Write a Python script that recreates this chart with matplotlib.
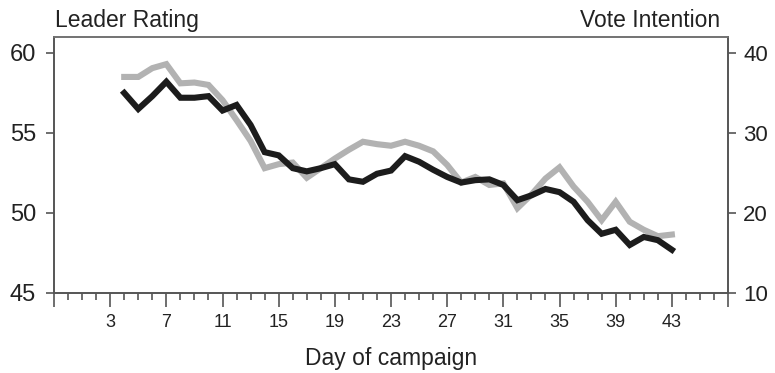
import matplotlib.pyplot as plt
import numpy as np

plt.rcParams["font.family"] = ["Liberation Sans", "DejaVu Sans"]

# campaign days with observations
days = list(range(4, 44))

# leader rating (left axis, black)
leader_rating = [57.5, 56.5, 57.3, 58.2, 57.2, 57.2, 57.3, 56.4, 56.75, 55.5,
                 53.8, 53.6, 52.8, 52.6, 52.8, 53.05, 52.1, 51.95, 52.45, 52.65,
                 53.55, 53.2, 52.7, 52.25, 51.9, 52.05, 52.1, 51.75, 50.8, 51.1,
                 51.5, 51.3, 50.7, 49.55, 48.7, 48.95, 48.0, 48.5, 48.3, 47.7]

# vote intention (right axis, grey)
vote_intention = [37.0, 37.0, 38.1, 38.6, 36.2, 36.3, 36.0, 34.1, 31.6, 29.0,
                  25.6, 26.1, 26.3, 24.4, 25.6, 26.8, 27.9, 28.9, 28.6, 28.4,
                  28.9, 28.4, 27.7, 26.0, 23.8, 24.5, 23.5, 23.7, 20.6, 22.3,
                  24.3, 25.7, 23.3, 21.4, 19.1, 21.4, 18.9, 17.9, 17.1, 17.3]

tick_days = list(range(3, 44, 4))

fig = plt.figure(figsize=(7.75, 3.73), dpi=100)
ax = fig.add_axes([0.0697, 0.2145, 0.8697, 0.6865])
ax2 = ax.twinx()

spine_col = "#555555"
ax.plot(days, leader_rating, color="#1c1c1c", lw=4.4, solid_joinstyle="miter", zorder=3)
ax2.plot(days, vote_intention, color="#b2b2b2", lw=4.4, solid_joinstyle="miter", zorder=2)
ax.set_zorder(ax2.get_zorder() + 1)
ax.patch.set_visible(False)

ax.set_xlim(-1, 47)
ax.set_ylim(45, 61)
ax2.set_ylim(10, 42)

ax.set_yticks([45, 50, 55, 60])
ax2.set_yticks([10, 20, 30, 40])
ax.set_xticks([-1] + tick_days + [47])
ax.set_xticklabels([""] + [str(d) for d in tick_days] + [""])
ax.set_xticks(np.arange(-1, 48), minor=True)

for a in (ax, ax2):
    for s in a.spines.values():
        s.set_color(spine_col)
        s.set_linewidth(1.2)
ax.spines["top"].set_color("#777777")

ax.tick_params(axis="x", which="major", direction="out", length=10, width=1.2,
               color=spine_col, labelsize=13, pad=5, labelcolor="#222222")
ax.tick_params(axis="x", which="minor", direction="out", length=5, width=1.2,
               color=spine_col)
ax.tick_params(axis="y", direction="out", length=6, width=1.2, color=spine_col,
               labelsize=17, pad=7, labelcolor="#222222")
ax2.tick_params(axis="y", direction="out", length=6, width=1.2, color=spine_col,
                labelsize=16, pad=5, labelcolor="#222222")

ax.set_xlabel("Day of campaign", fontsize=16.5, labelpad=12, color="#222222")
fig.text(0.071, 0.945, "Leader Rating", fontsize=16.5, color="#222222",
         ha="left", va="center")
fig.text(0.929, 0.945, "Vote Intention", fontsize=16.5, color="#222222",
         ha="right", va="center")

fig.savefig("out.png", dpi=100)
